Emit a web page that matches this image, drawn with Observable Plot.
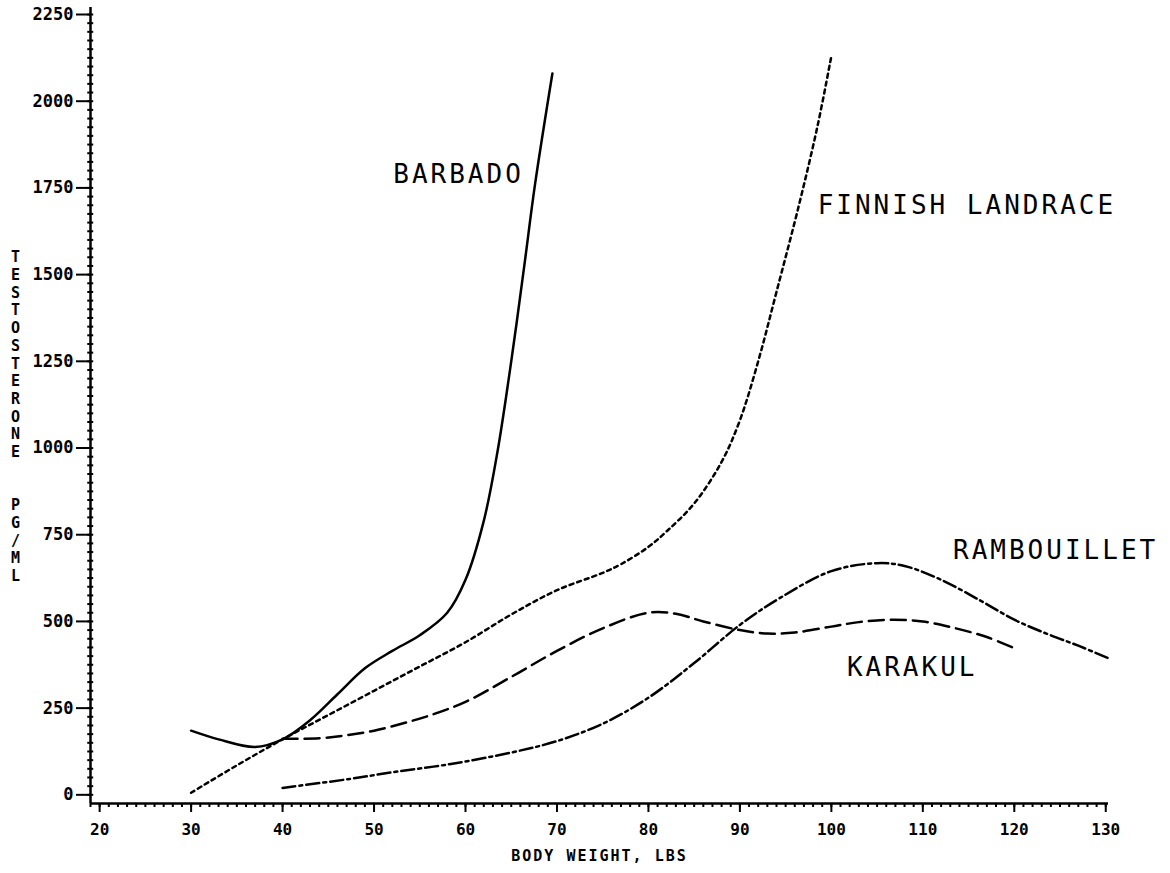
<!DOCTYPE html>
<html><head><meta charset="utf-8">
<script src="https://cdn.jsdelivr.net/npm/d3@7"></script>
<script src="https://cdn.jsdelivr.net/npm/@observablehq/plot@0.6"></script>
<style>
body{margin:0;background:#fff;}
#chart svg{background:#fff;}
.ticklab text{font-weight:bold;}
.curvelab text{letter-spacing:3px;}
.xtitle text{letter-spacing:2px;font-weight:bold;}
.ytitle text{font-weight:bold;}
</style>
</head><body><div id="chart"></div>
<script>
// Body weight (lbs) and testosterone (pg/ml)
const barbadoWeight = [30, 33, 37, 40, 43, 46, 49, 52, 55, 58, 60, 62, 63.5, 65, 66.4, 67.6, 69.5];
const barbadoTesto  = [185, 160, 138, 160, 215, 290, 365, 415, 460, 525, 620, 790, 990, 1250, 1520, 1760, 2080];

const finnishWeight = [30, 35, 40, 45, 50, 55, 60, 65, 70, 75, 77, 80, 82, 85, 88, 90, 92, 94, 96.5, 98.5, 100];
const finnishTesto  = [6, 85, 160, 230, 300, 370, 440, 520, 590, 640, 665, 715, 760, 840, 960, 1080, 1250, 1450, 1705, 1930, 2130];

const karakulWeight = [40, 44, 47, 50, 53, 56, 60, 65, 70, 75, 80, 83, 86, 90, 93, 96, 100, 103, 106.5, 110, 113.3, 117, 120.4];
const karakulTesto  = [162, 163, 172, 185, 205, 228, 268, 340, 415, 480, 525, 522, 500, 475, 465, 468, 485, 498, 505, 500, 482, 455, 418];

const rambouilletWeight = [40, 47.4, 52, 58.4, 65, 70, 75, 80, 85, 90, 94.4, 100, 105, 108, 112, 116.3, 120, 123.6, 127, 130.2];
const rambouilletTesto  = [20, 46, 65, 89, 122, 155, 205, 280, 380, 490, 568, 645, 668, 660, 620, 560, 505, 464, 430, 395];

const labelNames  = ["BARBADO", "FINNISH LANDRACE", "RAMBOUILLET", "KARAKUL"];
const labelWeight = [52.1, 98.5, 113.3, 101.7];
const labelTesto  = [1788, 1699, 704, 366];

const xMajorTicks = d3.range(20, 131, 10);
const xMinorTicks = d3.range(19, 131, 1);
const yMajorTicks = d3.range(0, 2251, 250);
const yMinorTicks = d3.range(0, 2251, 25);

const yTitle = "TESTOSTERONE  PG/ML";

const toRows = (xs, ys) => xs.map((x, i) => ({x, y: ys[i]}));
const barbado = toRows(barbadoWeight, barbadoTesto);
const finnish = toRows(finnishWeight, finnishTesto);
const karakul = toRows(karakulWeight, karakulTesto);
const rambouillet = toRows(rambouilletWeight, rambouilletTesto);
const labels = labelNames.map((t, i) => ({t, x: labelWeight[i], y: labelTesto[i]}));

const font = "DejaVu Sans Mono";

const plot = Plot.plot({
  width: 1170,
  height: 873,
  marginLeft: 90,
  marginRight: 62,
  marginTop: 14,
  marginBottom: 70,
  style: {fontFamily: font, fontSize: "16px", color: "black", background: "#fff"},
  x: {domain: [19, 130.3]},
  y: {domain: [-25, 2250]},
  marks: [
    Plot.ruleX([19], {y1: -25, y2: 2270, stroke: "black", strokeWidth: 2.5}),
    Plot.ruleY([-25], {x1: 19, x2: 130.3, stroke: "black", strokeWidth: 2.5}),
    Plot.ruleY(yMinorTicks, {x1: 18.7, x2: 19.35, stroke: "black", strokeWidth: 2}),
    Plot.axisY({ticks: yMajorTicks, tickFormat: d3.format("d"), tickSize: 14, tickPadding: 3, strokeWidth: 2, label: null, fontSize: 17, className: "ticklab"}),
    Plot.axisX({ticks: xMinorTicks, tickSize: 4, strokeWidth: 2, text: null, label: null}),
    Plot.axisX({ticks: xMajorTicks, tickFormat: d3.format("d"), tickSize: 9, tickPadding: 11, strokeWidth: 2, label: null, fontSize: 16, className: "ticklab"}),
    Plot.line(barbado, {x: "x", y: "y", curve: "catmull-rom", stroke: "black", strokeWidth: 2.5}),
    Plot.line(finnish, {x: "x", y: "y", curve: "catmull-rom", stroke: "black", strokeWidth: 2.5, strokeDasharray: "4,4"}),
    Plot.line(karakul, {x: "x", y: "y", curve: "catmull-rom", stroke: "black", strokeWidth: 2.5, strokeDasharray: "15,7"}),
    Plot.line(rambouillet, {x: "x", y: "y", curve: "catmull-rom", stroke: "black", strokeWidth: 2.5, strokeDasharray: "13,4,3,4"}),
    Plot.text(labels, {x: "x", y: "y", text: "t", textAnchor: "start", fontSize: 26, fill: "black", className: "curvelab"}),
    Plot.text(["BODY WEIGHT, LBS"], {frameAnchor: "bottom", dy: 57, fontSize: 15, fill: "black", className: "xtitle"}),
    Plot.text([yTitle.split("").join("\n")], {frameAnchor: "left", dx: -75, dy: 7, fontSize: 15, lineHeight: 1.18, textAnchor: "middle", fill: "black", className: "ytitle"})
  ]
});
document.getElementById("chart").appendChild(plot);
</script>
</body></html>
